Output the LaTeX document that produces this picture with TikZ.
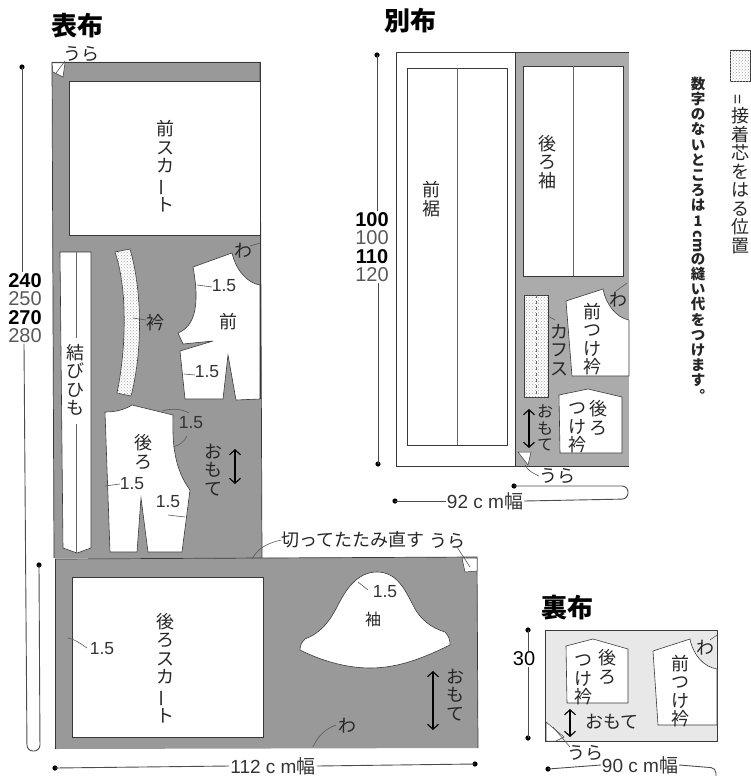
\documentclass[tikz,border=0pt]{standalone}
\usepackage{fontspec}
\setmainfont{Liberation Sans}
\newfontfamily\jpfont{Noto Sans CJK JP}
\usetikzlibrary{arrows.meta, calc, patterns}

\definecolor{clothmain}{gray}{0.60}
\definecolor{clothside}{gray}{0.67}
\definecolor{clothlining}{gray}{0.91}
\definecolor{edgeline}{gray}{0.22}

\newcommand{\barchar}{\rotatebox[origin=c]{90}{ー}}

\tikzset{
	cloth/.style={draw=edgeline, line width=0.7pt},
	piece/.style={draw=edgeline, line width=0.6pt, fill=white},
	interfacing/.style={piece, postaction={pattern=crosshatch dots, pattern color=gray!70}},
	foldmark/.style={draw=edgeline, line width=0.5pt, fill=white},
	centreline/.style={draw=gray!80!black, line width=0.7pt},
	leader/.style={draw=gray!70!black, line width=0.6pt},
	dimline/.style={draw=gray!60!black, line width=0.9pt},
	grainline/.style={draw=black, line width=1.1pt, <->, >={Straight Barb[length=5pt, width=11pt]}},
	vtext/.style={align=center, inner sep=0pt, text=black!85, font=\jpfont\fontsize{18}{18.5}\selectfont},
	vsmall/.style={vtext, font=\jpfont\fontsize{16}{16.5}\selectfont},
	hjp/.style={inner sep=0pt, text=black!85, font=\jpfont\fontsize{18}{18.5}\selectfont},
	title/.style={inner sep=0pt, font=\jpfont\bfseries\fontsize{26}{27}\selectfont},
	seam/.style={inner sep=0pt, text=black!80, font=\fontsize{17.5}{18}\selectfont},
	sizes/.style={align=center, inner sep=1pt, fill=white, font=\fontsize{20}{18.3}\selectfont},
	widthtext/.style={inner sep=1pt, text=black!80, font=\fontsize{19}{19}\selectfont}
}

\begin{document}
\begin{tikzpicture}[x=1pt, y=-1pt]
	\useasboundingbox (0,0) rectangle (751,776);
	
	% --- TITLES ---
	\node[title] (titleMain) at (77,26) {表布};
	\node[title] (titleSide) at (410,21) {別布};
	\node[title] (titleLining) at (567,608) {裏布};
	
	% --- MAIN FABRIC, UPPER PART ---
	\fill[clothmain] (52,62) -- (260,62) -- (262,558) -- (54,558) -- cycle;
	\draw[cloth] (52,62) -- (260,62);
	\draw[cloth] (52,62) -- (54,558);
	\draw[cloth] (260,62) -- (262,558);
	
	% Front skirt
	\draw[piece] (69,81) rectangle (260,235);
	\node[vtext] (skirtFront) at (165,166) {前\\ス\\カ\\\barchar\\ト};
	
	% Tie
	\draw[piece] (60,252) -- (91,252) -- (91,548) -- (77,553) -- (63,548) -- cycle;
	\draw[centreline] (76,252) -- (76,338);
	\draw[centreline] (76,424) -- (76,553);
	\node[vtext] (tie) at (75,380) {結\\び\\ひ\\も};
	
	% Collar
	\draw[interfacing] (115,252) .. controls (128,290) and (126,350) .. (117,393)
		-- (131,396) .. controls (143,350) and (142,290) .. (130,249) -- cycle;
	\node[vtext] (collar) at (155,323) {衿};
	\draw[leader] (133,318) -- (146,320);
	
	% Front bodice
	\draw[piece] (193,267) -- (232,253) .. controls (236,270) and (247,283) .. (260,285)
		-- (260,399) -- (236,400) -- (228,355) -- (223,399) -- (185,399) -- (180,351)
		-- (213,341) -- (183,344) -- (178,333) .. controls (195,326) and (200,305) .. (193,267) -- cycle;
	\draw[cloth] (260,62) -- (260,399);
	\node[vtext] (frontLabel) at (228,322) {前};
	\node[vtext] (foldFront) at (243,251) {わ};
	\draw[leader] (250,246) -- (260,243);
	\node[seam] (seamFrontA) at (224,286) {1.5};
	\draw[leader] (197,285) -- (212,287);
	\node[seam] (seamFrontB) at (207,372) {1.5};
	\draw[leader] (184,374) -- (195,375);
	
	% Back bodice
	\draw[piece] (105,412) .. controls (115,412) and (124,410) .. (132,405) -- (173,415)
		.. controls (172,445) and (175,470) .. (190,490) -- (182,552) -- (148,552) -- (141,498)
		-- (137,552) -- (110,552) -- cycle;
	\node[vtext] (backLabel) at (143,452) {後\\ろ};
	\node[seam] (seamBackA) at (191,423) {1.5};
	\draw[leader] (173,447) .. controls (180,445) and (184,442) .. (187,436);
	\draw[leader] (162,411) .. controls (172,408) and (182,409) .. (189,413);
	\node[seam] (seamBackB) at (132,484) {1.5};
	\draw[leader] (105,486) -- (120,484);
	\node[seam] (seamBackC) at (168,502) {1.5};
	\draw[leader] (168,515) -- (185,517);
	
	\node[vtext] (faceUpper) at (213,470) {お\\も\\て};
	\draw[grainline] (235,449) -- (235,484);
	
	% --- MAIN FABRIC, LOWER PART ---
	\fill[clothmain] (55,559) -- (477,557) -- (478,748) -- (55,749) -- cycle;
	\draw[cloth] (55,559) -- (477,557) -- (478,748);
	\draw[cloth] (55,559) -- (55,749);
	
	% Back skirt
	\draw[piece] (72,577) rectangle (263,737);
	\node[vtext] (skirtBack) at (165,668) {後\\ろ\\ス\\カ\\\barchar\\ト};
	\node[seam] (seamSkirt) at (102,649) {1.5};
	\draw[leader] (68,638) .. controls (74,639) and (80,643) .. (87,648);
	
	% Sleeve
	\draw[piece] (300,650) .. controls (300,645) and (302,642) .. (305,639)
		.. controls (318,634) and (328,625) .. (338,605)
		.. controls (348,585) and (360,572) .. (377,572)
		.. controls (397,572) and (405,590) .. (413,605)
		.. controls (420,620) and (432,628) .. (445,632)
		.. controls (449,636) and (450,640) .. (450,645)
		.. controls (425,657) and (400,668) .. (370,668)
		.. controls (345,668) and (320,660) .. (300,650) -- cycle;
	\node[vsmall] (sleeveLabel) at (373,619) {袖};
	\node[seam] (seamSleeve) at (385,592) {1.5};
	\draw[leader] (358,582) -- (368,590);
	
	\draw[grainline] (433,671) -- (433,730);
	\node[vtext] (faceLower) at (455,695) {お\\も\\て};
	\node[vtext] (foldLower) at (347,726) {わ};
	\draw[leader] (313,747) .. controls (318,736) and (325,729) .. (336,725);
	
	% Fold corners
	\draw[foldmark] (52,63) -- (65,63) -- (63,77) -- (53,72) -- cycle;
	\node[hjp] (backUpper) at (81,54) {うら};
	\draw[leader] (56,73) -- (65,61);
	\draw[foldmark] (462,558) -- (477,558) -- (477,571) -- (465,572) -- cycle;
	\node[hjp] (backLower) at (447,541) {うら};
	\draw[leader] (457,547) -- (470,567);
	
	\node[hjp] (cutNote) at (353,540) {切ってたたみ直す};
	\draw[leader] (252,559) .. controls (257,550) and (264,544) .. (cutNote.west);
	
	% --- SIDE FABRIC ---
	\draw[cloth] (515,52) -- (396,52) -- (396,466) -- (528,466);
	\fill[clothside] (515,52) rectangle (629,466);
	\draw[cloth] (515,52) -- (515,466);
	\draw[cloth] (515,52) -- (629,52);
	\draw[cloth] (515,466) -- (629,466);
	
	% Front hem
	\draw[piece] (407,68) rectangle (507,445);
	\draw[centreline] (457,68) -- (457,445);
	\node[vtext] (hemLabel) at (431,199) {前\\裾};
	
	% Back sleeve
	\draw[piece] (523,66) rectangle (623,276);
	\draw[centreline] (573,66) -- (573,276);
	\node[vtext] (backSleeve) at (547,162) {後\\ろ\\袖};
	
	% Cuff
	\draw[interfacing] (524,295) rectangle (548,397);
	\draw[dashed, centreline] (536,295) -- (536,397);
	\node[vtext] (cuffLabel) at (559,350) {カ\\フ\\ス};
	\draw[leader] (548,316) -- (555,320);
	
	% Front collar band
	\draw[piece] (566,301) -- (603,289) .. controls (606,305) and (617,318) .. (629,320)
		-- (629,376) -- (572,376) -- cycle;
	\node[vtext] (bandFront) at (592,339) {前\\つ\\け\\衿};
	\node[vtext] (foldSide) at (618,300) {わ};
	\draw[leader] (616,291) -- (627,283);
	
	% Back collar band
	\draw[piece] (559,395) -- (588,389) -- (622,397) -- (622,453) -- (560,453) -- cycle;
	\node[vtext] (bandBackA) at (598,418) {後\\ろ};
	\node[vtext] (bandBackB) at (577,428) {つ\\け\\衿};
	
	\draw[grainline] (529,409) -- (529,448);
	\node[vsmall] (faceSide) at (545,428) {お\\も\\て};
	
	% Fold corner
	\draw[foldmark] (518,452) -- (531,452) -- (528,465) -- cycle;
	\node[hjp] (backSide) at (557,476) {うら};
	\draw[leader] (525,465) .. controls (528,471) and (533,473) .. (backSide.west);
	
	% --- LINING ---
	\draw[cloth, fill=clothlining] (545,630) rectangle (717,741);
	
	\draw[piece] (566,646) -- (593,639) -- (628,649) -- (628,703) -- (567,703) -- cycle;
	\node[vtext] (bandBackC) at (607,667) {後\\ろ};
	\node[vtext] (bandBackD) at (583,680) {つ\\け\\衿};
	
	\draw[piece] (653,651) -- (690,639) .. controls (693,655) and (704,667) .. (717,669)
		-- (717,725) -- (658,725) -- cycle;
	\node[vtext] (bandFrontB) at (680,691) {前\\つ\\け\\衿};
	\node[vtext] (foldLining) at (705,648) {わ};
	\draw[leader] (710,640) -- (717,635);
	
	\draw[grainline] (570,709) -- (570,737);
	\node[hjp] (faceLining) at (612,722) {おもて};
	
	% Fold corner
	\draw[foldmark] (546,722) -- (564,737) -- (556,741) -- (546,741) -- cycle;
	\node[hjp] (backLining) at (585,753) {うら};
	\draw[leader] (553,727) -- (570,747);
	
	% --- LENGTHS ---
	\node[sizes] (lenMain) at (25,308) {\textbf{240}\\\textcolor{black!65}{250}\\\textbf{270}\\\textcolor{black!65}{280}};
	\coordinate (lenMainTop) at (22,67);
	\coordinate (lenMainEnd) at (39,565);
	\fill (lenMainTop) circle (2.6pt);
	\fill (lenMainEnd) circle (2.6pt);
	\draw[dimline] (lenMainTop) -- (lenMain.north -| lenMainTop);
	\draw[dimline, rounded corners=6pt] (lenMain.south -| 24,0) -- (27,751) -- (40,751) -- (lenMainEnd);
	
	\node[sizes] (lenSide) at (372,247) {\textbf{100}\\\textcolor{black!65}{100}\\\textbf{110}\\\textcolor{black!65}{120}};
	\coordinate (lenSideTop) at (377,55);
	\coordinate (lenSideEnd) at (378,464);
	\fill (lenSideTop) circle (2.6pt);
	\fill (lenSideEnd) circle (2.6pt);
	\draw[dimline] (lenSideTop) -- (lenSide.north -| lenSideTop);
	\draw[dimline] (lenSide.south -| lenSideEnd) -- (lenSideEnd);
	
	\node[sizes, font=\fontsize{20}{20}\selectfont] (lenLining) at (524,659) {30};
	\coordinate (lenLiningTop) at (528,630);
	\coordinate (lenLiningEnd) at (528,738);
	\fill (lenLiningTop) circle (2.6pt);
	\fill (lenLiningEnd) circle (2.6pt);
	\draw[dimline] (lenLiningTop) -- (lenLining.north -| lenLiningTop);
	\draw[dimline] (lenLining.south -| lenLiningEnd) -- (lenLiningEnd);
	
	% --- WIDTHS ---
	\node[widthtext] (widthMain) at (273,766) {112 c m\jpfont 幅};
	\coordinate (widthMainA) at (55,768);
	\coordinate (widthMainB) at (475,764);
	\fill (widthMainA) circle (2.6pt);
	\fill (widthMainB) circle (2.6pt);
	\draw[dimline] (widthMainA) -- (widthMain.west);
	\draw[dimline] (widthMain.east) -- (widthMainB);
	
	\node[widthtext] (widthSide) at (485,501) {92 c m\jpfont 幅};
	\coordinate (widthSideA) at (395,501);
	\coordinate (widthSideB) at (514,486);
	\fill (widthSideA) circle (2.6pt);
	\fill (widthSideB) circle (2.6pt);
	\draw[dimline] (widthSideA) -- (widthSide.west);
	\draw[dimline, rounded corners=6pt] (widthSide.east) -- (628,499) -- (628,486) -- (widthSideB);
	
	\node[widthtext] (widthLining) at (640,765) {90 c m\jpfont 幅};
	\coordinate (widthLiningA) at (548,769);
	\fill (widthLiningA) circle (2.6pt);
	\draw[dimline] (widthLiningA) -- (widthLining.west);
	\draw[dimline, rounded corners=5pt] (widthLining.east) -- (716,768) -- (716,780);
	
	% --- KEY AND NOTE ---
	\draw[interfacing] (730,50) rectangle (750,81);
	\node[vtext] (keyText) at (740,174) {\rotatebox[origin=c]{90}{=}\\接\\着\\芯\\を\\は\\る\\位\\置};
	\node[vsmall, font=\jpfont\bfseries\fontsize{14.5}{15.2}\selectfont] (noteText) at (698,239) {数\\字\\の\\な\\い\\と\\こ\\ろ\\は\\1\\[4pt]\rotatebox[origin=c]{-90}{cm}\\の\\縫\\い\\代\\を\\つ\\け\\ま\\す\\︒};
	
\end{tikzpicture}
\end{document}
